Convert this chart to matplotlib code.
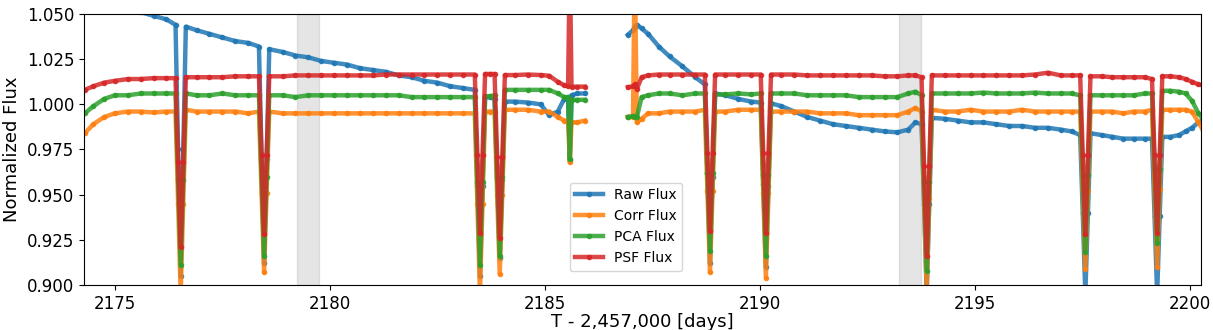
# light curve: raw / corrected / PCA / PSF flux vs time
import numpy as np
import matplotlib.pyplot as plt

nan = np.nan

# time (BTJD), one entry per read-off point, nan row marks the data gap
time = [2174.30, 2174.50, 2174.75, 2175.00, 2175.30, 2175.60, 2175.90, 2176.20,
        2176.41, 2176.47, 2176.53, 2176.59, 2176.65,
        2176.90, 2177.20, 2177.50, 2177.80, 2178.10,
        2178.35, 2178.41, 2178.47, 2178.53, 2178.59,
        2178.90, 2179.20, 2179.50, 2179.80, 2180.10, 2180.40, 2180.70, 2181.00,
        2181.30, 2181.60, 2181.90, 2182.20, 2182.50, 2182.80, 2183.10,
        2183.37, 2183.43, 2183.49, 2183.55, 2183.61,
        2183.72,
        2183.83, 2183.89, 2183.95, 2184.01, 2184.07,
        2184.30, 2184.60, 2184.90, 2185.10, 2185.30, 2185.45, 2185.54,
        2185.58,
        2185.62, 2185.75, 2185.93,
        2186.40,
        2186.93, 2187.05, 2187.09, 2187.14, 2187.25, 2187.40, 2187.65, 2187.90, 2188.20, 2188.50,
        2188.72, 2188.78, 2188.84, 2188.90, 2188.96,
        2189.20, 2189.50, 2189.80,
        2190.02, 2190.08, 2190.14, 2190.20, 2190.26,
        2190.50, 2190.80, 2191.10, 2191.40, 2191.70, 2192.00, 2192.30, 2192.60,
        2192.90, 2193.20, 2193.45, 2193.62,
        2193.76, 2193.82, 2193.88, 2193.94, 2194.00,
        2194.30, 2194.60, 2194.90, 2195.20, 2195.50, 2195.80, 2196.10, 2196.40,
        2196.70, 2197.00, 2197.25,
        2197.45, 2197.51, 2197.57, 2197.63, 2197.69,
        2197.95, 2198.20, 2198.45, 2198.70, 2198.95,
        2199.12, 2199.18, 2199.24, 2199.30, 2199.36,
        2199.55, 2199.75, 2199.90, 2200.05, 2200.20, 2200.30]

raw_flux = [1.068, 1.064, 1.060, 1.057, 1.054, 1.051, 1.049, 1.047,
            1.044, 0.975, 0.905, 0.975, 1.043,
            1.041, 1.039, 1.037, 1.035, 1.034,
            1.032, 0.972, 0.912, 0.970, 1.0305,
            1.029, 1.027, 1.026, 1.024, 1.023, 1.022, 1.020, 1.019,
            1.018, 1.016, 1.015, 1.013, 1.012, 1.010, 1.009,
            1.008, 0.955, 0.905, 0.955, 1.004,
            1.004,
            1.003, 0.958, 0.915, 0.958, 1.0015,
            1.0015, 1.001, 1.000, 0.994, 0.996, 1.003, 1.004,
            0.969,
            1.005, 1.006, 1.006,
            nan,
            1.0385, 1.041, 1.043, 1.044, 1.042, 1.039, 1.032, 1.0265, 1.021, 1.015,
            1.011, 0.962, 0.912, 0.960, 1.006,
            1.005, 1.003, 1.0015,
            1.001, 0.956, 0.910, 0.955, 1.0005,
            0.999, 0.996, 0.993, 0.991, 0.989, 0.988, 0.987, 0.986,
            0.985, 0.9845, 0.986, 0.990,
            0.989, 0.945, 0.895, 0.945, 0.9925,
            0.992, 0.991, 0.990, 0.990, 0.989, 0.988, 0.988, 0.987,
            0.987, 0.986, 0.985,
            0.983, 0.940, 0.895, 0.940, 0.984,
            0.983, 0.982, 0.981, 0.981, 0.981,
            0.981, 0.938, 0.895, 0.938, 0.982,
            0.982, 0.983, 0.985, 0.987, 0.990, 0.991]

corr_flux = [0.984, 0.989, 0.993, 0.995, 0.996, 0.996, 0.9955, 0.996,
             0.996, 0.945, 0.895, 0.945, 0.997,
             0.996, 0.996, 0.996, 0.996, 0.995,
             0.996, 0.951, 0.907, 0.951, 0.996,
             0.995, 0.995, 0.995, 0.995, 0.995, 0.995, 0.995, 0.995,
             0.995, 0.995, 0.995, 0.995, 0.995, 0.995, 0.995,
             0.995, 0.945, 0.895, 0.945, 0.996,
             0.996,
             0.996, 0.950, 0.906, 0.950, 0.997,
             0.997, 0.997, 0.996, 0.996, 0.993, 0.991, 0.991,
             0.968,
             0.990, 0.990, 0.991,
             nan,
             0.993, 0.993, 1.080, 0.990, 0.992, 0.995, 0.995, 0.996, 0.996, 0.996,
             0.997, 0.952, 0.907, 0.952, 0.996,
             0.996, 0.997, 0.997,
             0.997, 0.951, 0.904, 0.951, 0.996,
             0.996, 0.996, 0.996, 0.995, 0.995, 0.995, 0.994, 0.994,
             0.994, 0.994, 0.996, 0.998,
             0.996, 0.948, 0.897, 0.948, 0.997,
             0.996, 0.996, 0.997, 0.996, 0.996, 0.996, 0.997, 0.996,
             0.996, 0.996, 0.996,
             0.996, 0.952, 0.909, 0.952, 0.996,
             0.996, 0.996, 0.995, 0.996, 0.996,
             0.997, 0.953, 0.910, 0.953, 0.997,
             0.997, 0.997, 0.997, 0.996, 0.990, 0.986]

pca_flux = [0.995, 0.999, 1.003, 1.005, 1.005, 1.006, 1.006, 1.006,
            1.006, 0.958, 0.911, 0.958, 1.006,
            1.005, 1.005, 1.006, 1.005, 1.005,
            1.005, 0.960, 0.916, 0.960, 1.005,
            1.005, 1.004, 1.005, 1.005, 1.005, 1.005, 1.005, 1.005,
            1.005, 1.005, 1.004, 1.004, 1.004, 1.004, 1.004,
            1.004, 0.957, 0.911, 0.957, 1.0045,
            1.0045,
            1.005, 0.960, 0.916, 0.960, 1.008,
            1.008, 1.008, 1.008, 1.008, 1.006, 1.004, 1.004,
            0.970,
            1.0025, 1.0025, 1.0025,
            nan,
            0.993, 0.9935, 0.993, 0.993, 1.004, 1.005, 1.006, 1.006, 1.005, 1.006,
            1.006, 0.962, 0.919, 0.962, 1.0055,
            1.0055, 1.006, 1.0055,
            1.006, 0.961, 0.916, 0.961, 1.006,
            1.006, 1.006, 1.005, 1.005, 1.005, 1.005, 1.004, 1.004,
            1.004, 1.004, 1.006, 1.007,
            1.005, 0.957, 0.908, 0.957, 1.006,
            1.006, 1.006, 1.006, 1.0065, 1.006, 1.006, 1.006, 1.0065,
            1.006, 1.006, 1.006,
            1.005, 0.961, 0.918, 0.961, 1.005,
            1.005, 1.005, 1.005, 1.005, 1.006,
            1.006, 0.964, 0.923, 0.964, 1.0075,
            1.0075, 1.007, 1.006, 1.002, 0.995, 0.992]

psf_flux = [1.008, 1.010, 1.012, 1.013, 1.014, 1.014, 1.0145, 1.0145,
            1.0145, 0.968, 0.921, 0.968, 1.015,
            1.015, 1.015, 1.015, 1.0155, 1.0155,
            1.0155, 0.972, 0.928, 0.972, 1.0155,
            1.0155, 1.016, 1.016, 1.016, 1.016, 1.016, 1.016, 1.016,
            1.0165, 1.0165, 1.0165, 1.0165, 1.0165, 1.0165, 1.0165,
            1.0165, 0.972, 0.929, 0.972, 1.0168,
            1.0168,
            1.0168, 0.971, 0.926, 0.971, 1.0162,
            1.0162, 1.0165, 1.0162, 1.0158, 1.0125, 1.0105, 1.010,
            1.080,
            1.0098, 1.0098, 1.0098,
            nan,
            1.0095, 1.010, 1.011, 1.0085, 1.015, 1.016, 1.0165, 1.0165, 1.0165, 1.0165,
            1.0165, 0.973, 0.930, 0.973, 1.0165,
            1.0165, 1.0165, 1.0165,
            1.0165, 0.973, 0.929, 0.973, 1.0165,
            1.0165, 1.0165, 1.016, 1.016, 1.016, 1.016, 1.016, 1.016,
            1.0155, 1.0155, 1.016, 1.016,
            1.015, 0.966, 0.916, 0.966, 1.016,
            1.016, 1.016, 1.016, 1.016, 1.016, 1.016, 1.016, 1.0165,
            1.0175, 1.016, 1.016,
            1.016, 0.972, 0.928, 0.972, 1.0155,
            1.0155, 1.015, 1.015, 1.015, 1.015,
            1.014, 0.972, 0.929, 0.972, 1.0155,
            1.0155, 1.015, 1.014, 1.0125, 1.011, 1.0105]

series_labels = ['Raw Flux', 'Corr Flux', 'PCA Flux', 'PSF Flux']

# shaded intervals (momentum dumps)
shade_starts = [2179.23, 2193.23]
shade_ends = [2179.74, 2193.74]

fig = plt.figure(figsize=(12.13, 3.30), dpi=100)
ax = fig.add_axes([0.0692, 0.1364, 0.9209, 0.8212])

for s0, s1 in zip(shade_starts, shade_ends):
    ax.axvspan(s0, s1, color='grey', alpha=0.2)

for flux, lab in zip([raw_flux, corr_flux, pca_flux, psf_flux], series_labels):
    ax.plot(time, flux, '.-', lw=3.2, ms=6, alpha=0.85, label=lab)

ax.set_xlim(2174.28, 2200.26)
ax.set_ylim(0.900, 1.050)
ax.set_yticks(np.arange(0.900, 1.0501, 0.025))
ax.yaxis.set_major_formatter(plt.FormatStrFormatter('%.3f'))
ax.tick_params(labelsize=12)

ax.set_xlabel('T - 2,457,000 [days]', fontsize=13, labelpad=0)
ax.set_ylabel('Normalized Flux', fontsize=13)

ax.legend(loc='lower left', bbox_to_anchor=(0.4285, 0.027), fontsize=10)

plt.savefig('out.png', dpi=100)
